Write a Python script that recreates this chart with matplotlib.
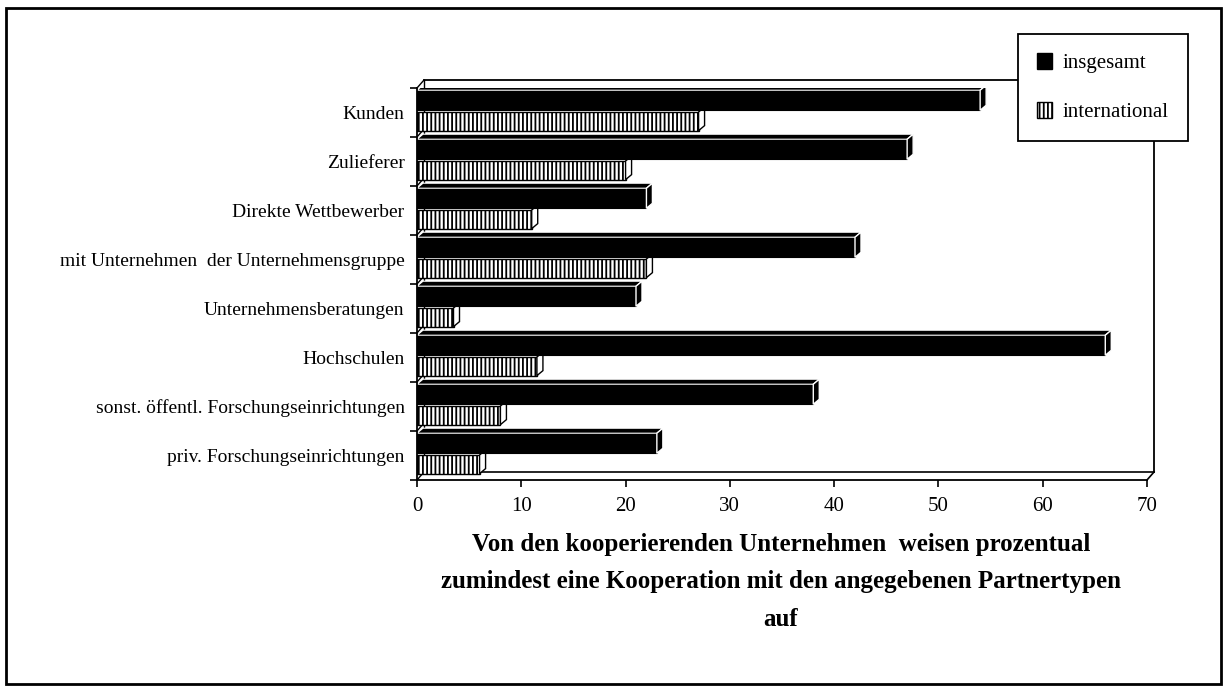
import numpy as np
import matplotlib
matplotlib.use("Agg")
import matplotlib.pyplot as plt
from matplotlib.patches import Polygon, Rectangle, Patch

plt.rcParams['font.family'] = ['Liberation Serif', 'DejaVu Serif']
plt.rcParams['hatch.linewidth'] = 1.3

# data (percent of cooperating firms)
categories = ['Kunden', 'Zulieferer', 'Direkte Wettbewerber',
              'mit Unternehmen  der Unternehmensgruppe', 'Unternehmensberatungen',
              'Hochschulen', 'sonst. öffentl. Forschungseinrichtungen',
              'priv. Forschungseinrichtungen']
insgesamt = [54, 47, 22, 42, 21, 66, 38, 23]
international = [27, 20, 11, 22, 3.5, 11.5, 8, 6]
series_names = ['insgesamt', 'international']
xticks = [0, 10, 20, 30, 40, 50, 60, 70]

W, H = 1224, 688
fig = plt.figure(figsize=(W / 100, H / 100), dpi=100)

# front plot rectangle in pixels
x0, x1, ytop, ybot = 417, 1147, 88, 480
ax = fig.add_axes([x0 / W, 1 - ybot / H, (x1 - x0) / W, (ybot - ytop) / H])
ax.set_xlim(0, 70)
ax.set_ylim(len(categories), 0)
ax.patch.set_alpha(0)

px = 70 / (x1 - x0)
py = len(categories) / (ybot - ytop)
# wall depth and bar depth offsets (data units)
wdx, wdy = 7 * px, 8 * py
bdx, bdy = 6 * px, 5 * py

n = len(categories)
# back wall and floor outline
ax.plot([wdx, 70 + wdx, 70 + wdx], [-wdy, -wdy, n - wdy], color='black', lw=1.3, clip_on=False, zorder=1)
ax.plot([wdx, 70 + wdx], [n - wdy, n - wdy], color='black', lw=1.2, clip_on=False, zorder=1)
ax.plot([wdx, wdx], [-wdy, n - wdy], color='black', lw=1.0, clip_on=False, zorder=1)
ax.plot([70, 70 + wdx], [n, n - wdy], color='black', lw=1.2, clip_on=False, zorder=1)
for b in range(n + 1):
    ax.plot([0, wdx], [b, b - wdy], color='black', lw=1.0, clip_on=False, zorder=1)

h1, h2 = 0.41, 0.38
off1, off2 = 0.045, 0.49
z = 2
for i in range(n - 1, -1, -1):
    # international (hatched) below, drawn first
    v = international[i]
    y0 = i + off2
    ax.barh(y0 + h2 / 2, v, height=h2, color='white', edgecolor='black',
            hatch='||||', lw=1.0, zorder=z)
    ax.add_patch(Polygon([(v, y0), (v, y0 + h2), (v + bdx, y0 + h2 - bdy), (v + bdx, y0 - bdy)],
                         closed=True, facecolor='white', edgecolor='black', lw=1.0, zorder=z + 0.1))
    z += 1
    v = insgesamt[i]
    y0 = i + off1
    ax.barh(y0 + h1 / 2, v, height=h1, color='black', edgecolor='black', lw=0.8, zorder=z)
    ax.add_patch(Polygon([(0, y0), (v, y0), (v + bdx, y0 - bdy), (bdx, y0 - bdy)],
                         closed=True, facecolor='black', edgecolor='white', lw=0.8, zorder=z + 0.1))
    ax.add_patch(Polygon([(v, y0), (v, y0 + h1), (v + bdx, y0 + h1 - bdy), (v + bdx, y0 - bdy)],
                         closed=True, facecolor='black', edgecolor='white', lw=1.0, zorder=z + 0.2))
    z += 1

for s in ['top', 'right']:
    ax.spines[s].set_visible(False)
for s in ['left', 'bottom']:
    ax.spines[s].set_linewidth(1.3)
    ax.spines[s].set_zorder(50)

ax.set_xticks(xticks)
ax.set_xticklabels([str(t) for t in xticks], fontsize=15)
ax.tick_params(axis='x', direction='out', length=5, width=1.2, pad=7)
ax.set_yticks(np.arange(n) + 0.5)
ax.set_yticklabels(categories, fontsize=14)
ax.set_yticks(np.arange(n + 1), minor=True)
ax.tick_params(axis='y', which='major', length=0, pad=9)
ax.tick_params(axis='y', which='minor', direction='out', length=5, width=1.2)

handles = [Patch(facecolor='black', edgecolor='black'),
           Patch(facecolor='white', edgecolor='black', hatch='||||')]
leg = fig.legend(handles, series_names, loc='upper left',
                 bbox_to_anchor=(1018 / W, 1 - 34 / H), frameon=True, fancybox=False,
                 edgecolor='black', framealpha=1, borderaxespad=0, fontsize=15,
                 handlelength=0.75, handleheight=0.8, handletextpad=0.5,
                 labelspacing=1.4, borderpad=0.9)
leg.get_frame().set_linewidth(1.3)

fig.text(781 / W, 1 - 533 / H,
         'Von den kooperierenden Unternehmen  weisen prozentual\n'
         'zumindest eine Kooperation mit den angegebenen Partnertypen\nauf',
         ha='center', va='top', fontsize=18, fontweight='bold', linespacing=1.8)

fig.add_artist(Rectangle((6 / W, 4 / H), (1221 - 6) / W, (684 - 8) / H,
                         transform=fig.transFigure, fill=False, edgecolor='black', lw=2))

fig.savefig('out.png', dpi=100)
